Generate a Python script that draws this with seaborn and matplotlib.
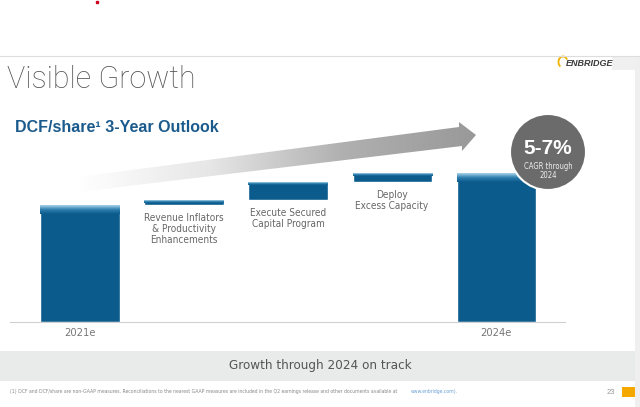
import numpy as np
import pandas as pd
import matplotlib
matplotlib.use("Agg")
import matplotlib.pyplot as plt
import seaborn as sns
from matplotlib.patches import Polygon, Rectangle, Circle, Arc
from matplotlib.colors import LinearSegmentedColormap

# data (DCF/share, arbitrary units)
steps = ["2021e",
         "Revenue Inflators\n& Productivity\nEnhancements",
         "Execute Secured\nCapital Program",
         "Deploy\nExcess Capacity",
         "2024e"]
dcf_2021 = 11.7
increments = [0.5, 1.8, 0.9]
dcf_2024 = 14.9
tick_labels = ["2021e", "", "", "", "2024e"]

bottoms = [0.0]
heights = [dcf_2021]
level = dcf_2021
for d in increments:
    bottoms.append(level)
    heights.append(d)
    level += d
bottoms.append(0.0)
heights.append(dcf_2024)

df = pd.DataFrame({"step": steps, "height": heights, "bottom": bottoms})

sns.set_style("white")
plt.rcParams["font.family"] = ["Liberation Sans", "DejaVu Sans"]
narrow = dict(family=["DejaVu Sans"], fontstretch="condensed")

BLUE = "#0b5b8d"
W, H = 640, 407
fig = plt.figure(figsize=(6.4, 4.07), dpi=100)

# background layer in pixel coordinates
bg = fig.add_axes([0, 0, 1, 1], zorder=0)
bg.set_axis_off()

bg.plot([0, W], [56, 56], color="#dddddd", lw=0.8)
bg.add_patch(Rectangle((635, 56), 5, H - 56, color="#efefef", lw=0))
bg.add_patch(Rectangle((612, 57), 23, 13, color="#f0f0f0", lw=0))
bg.add_patch(Rectangle((0, 351), 635, 30, color="#e9eaea", lw=0))
bg.add_patch(Rectangle((622, 387), 13, 10, color="#f5a800", lw=0))
bg.plot([97], [2], marker="s", ms=1.5, color="#d0021b")

# gradient arrow
arrow_pts = [(78, 192), (78, 177), (459, 127), (459, 122), (476, 135),
             (462, 151), (462, 146)]
arrow = Polygon(arrow_pts, closed=True, facecolor="none", edgecolor="none")
bg.add_patch(arrow)
grad = np.linspace(0, 1, 256).reshape(1, -1)
cmap_arrow = LinearSegmentedColormap.from_list("arr", ["#ffffff", "#e6e6e6", "#b0b0b0", "#999999"])
im = bg.imshow(grad, extent=[78, 476, 193, 120], cmap=cmap_arrow, aspect="auto")
im.set_clip_path(arrow)
bg.set_xlim(0, W)
bg.set_ylim(H, 0)

bg.text(7, 80, "Visible Growth", fontsize=22, color="#555555", va="center",
        family=["Roboto", "DejaVu Sans"], fontweight="light")
bg.text(15, 127, "DCF/share\u00b9 3-Year Outlook", fontsize=11.5, color="#1a5a8c",
        fontweight="bold", va="center")
bg.add_patch(Arc((563, 62), 9, 11, theta1=120, theta2=330, color="#f0b400", lw=1.3))
bg.text(590, 63, "ENBRIDGE", fontsize=6.5, color="#3a3a3a", fontweight="bold",
        style="italic", ha="center", va="center")
bg.text(320, 365, "Growth through 2024 on track", fontsize=9.6, color="#555555",
        ha="center", va="center", **narrow)
note = ("(1) DCF and DCF/share are non-GAAP measures. Reconciliations to the nearest GAAP "
        "measures are included in the Q2 earnings release and other documents available at")
bg.text(10, 392, note, fontsize=3.7, color="#888888", va="center", **narrow)
bg.text(411, 392, "www.enbridge.com).", fontsize=3.7, color="#6aa0d8", va="center", **narrow)
bg.text(607, 393, "23", fontsize=5.5, color="#999999", va="center")

# chart axes: baseline at y=322 px, 10 px per unit
left, right, base, top = 10, 565, 322, 100
ax = fig.add_axes([left / W, (H - base) / H, (right - left) / W, (base - top) / H], zorder=1)
ax.patch.set_alpha(0)
sns.barplot(data=df, x="step", y="height", bottom=df["bottom"].values, color=BLUE,
            saturation=1, width=0.76, ax=ax)

# light fade on top of the bars
cmap_top = LinearSegmentedColormap.from_list("top", [BLUE, "#2f7fae", "#a9d4ec"])
for i, p in enumerate(ax.patches):
    y1 = p.get_y() + p.get_height()
    fade = 0.9 if p.get_height() > 2 else 0.3
    ax.imshow(np.linspace(0, 1, 64).reshape(-1, 1), cmap=cmap_top, origin="lower",
              extent=[p.get_x(), p.get_x() + p.get_width(), y1 - fade, y1],
              aspect="auto", zorder=3)
ax.set_xlim(-0.673, 4.663)
ax.set_ylim(0, (base - top) / 10)

for i in range(1, 4):
    ax.text(i, bottoms[i] - 0.8, steps[i], ha="center", va="top", fontsize=7.2,
            color="#666666", linespacing=1.12, **narrow)

ax.set_xticks(range(len(steps)))
ax.set_xticklabels(tick_labels, fontsize=8, color="#777777", **narrow)
ax.tick_params(axis="x", length=0, pad=4)
ax.set_yticks([])
ax.set_xlabel("")
ax.set_ylabel("")
for s in ["top", "right", "left"]:
    ax.spines[s].set_visible(False)
ax.spines["bottom"].set_color("#d0d0d0")
ax.spines["bottom"].set_linewidth(0.8)

# foreground: CAGR badge
fg = fig.add_axes([0, 0, 1, 1], zorder=2)
fg.patch.set_alpha(0)
fg.set_xlim(0, W)
fg.set_ylim(H, 0)
fg.set_axis_off()
fg.add_patch(Circle((548, 152), 38, facecolor="#6b6b6b", edgecolor="white", lw=1.5))
fg.text(548, 148, "5-7%", fontsize=15, fontweight="bold", color="white",
        ha="center", va="center")
fg.text(548, 171, "CAGR through\n2024", fontsize=5.5, color="#eeeeee",
        ha="center", va="center", linespacing=1.0, **narrow)

fig.savefig("out.png", dpi=100)
plt.close(fig)
